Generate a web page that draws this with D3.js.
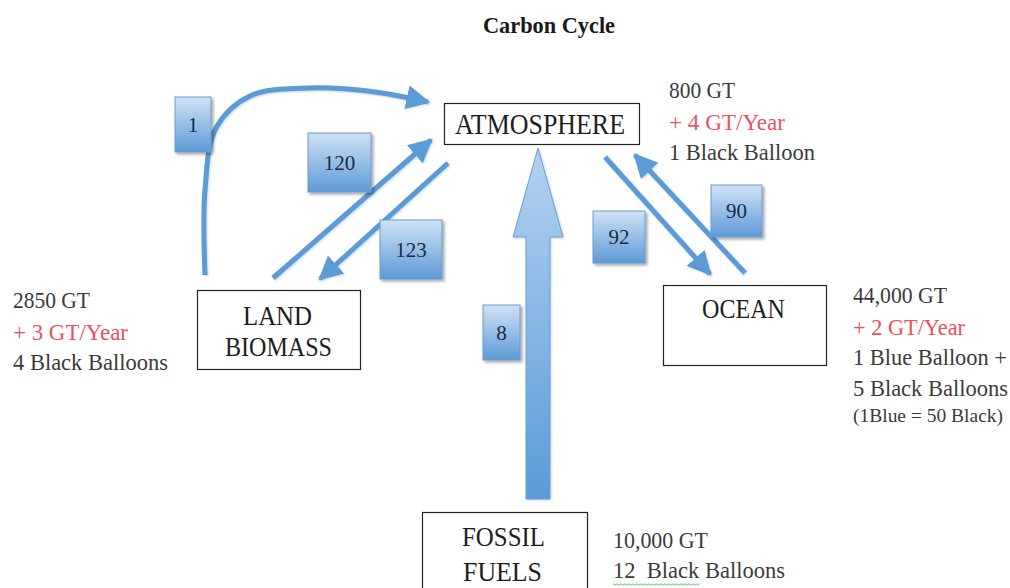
<!DOCTYPE html>
<html><head><meta charset="utf-8">
<script src="https://cdn.jsdelivr.net/npm/d3@7"></script>
<style>html,body{margin:0;padding:0;background:#fff;}svg{display:block;}text{white-space:pre;}</style>
</head><body><svg id="c" width="1010" height="588"></svg>
<script>
// ---- data ----
const title = "Carbon Cycle";
const reservoirs = ["ATMOSPHERE", "LAND BIOMASS", "OCEAN", "FOSSIL FUELS"];
const stockLabels = ["800 GT", "2850 GT", "44,000 GT", "10,000 GT"];
const rateLabels = ["+ 4 GT/Year", "+ 3 GT/Year", "+ 2 GT/Year", null];
const balloonLabels = [["1 Black Balloon"], ["4 Black Balloons"], ["1 Blue Balloon +", "5 Black Balloons"], ["12  Black Balloons"]];
const balloonNote = "(1Blue = 50 Black)";
const flowNames = ["land-use", "photosynthesis", "respiration", "ocean-uptake", "ocean-release", "fossil"];
const flowValues = [1, 120, 123, 92, 90, 8];

// ---- drawing ----
const svg = d3.select("#c");
const blue = "#5b9bd5";
const grey = "#3b3b3b";
const red = "#ee505c";
const FONT = "'Liberation Serif', 'Times New Roman', serif";

const defs = svg.append("defs");
const g1 = defs.append("linearGradient").attr("id", "boxGrad").attr("x1", 0).attr("y1", 0).attr("x2", 0).attr("y2", 1);
g1.append("stop").attr("offset", "0%").attr("stop-color", "#cfe2f6");
g1.append("stop").attr("offset", "100%").attr("stop-color", "#5d9ad6");
const g2 = defs.append("linearGradient").attr("id", "bigGrad").attr("x1", 0).attr("y1", 0).attr("x2", 0).attr("y2", 1);
g2.append("stop").attr("offset", "0%").attr("stop-color", "#b4d2f1");
g2.append("stop").attr("offset", "100%").attr("stop-color", "#5a9ad8");
const f = defs.append("filter").attr("id", "shadow").attr("x", "-20%").attr("y", "-20%").attr("width", "150%").attr("height", "150%");
f.append("feDropShadow").attr("dx", 2).attr("dy", 2).attr("stdDeviation", 1.6).attr("flood-color", "#000").attr("flood-opacity", 0.35);
const fg = defs.append("filter").attr("id", "glow").attr("x", "-20%").attr("y", "-20%").attr("width", "150%").attr("height", "150%");
fg.append("feDropShadow").attr("dx", 1).attr("dy", 1).attr("stdDeviation", 1.2).attr("flood-color", "#7aa6d0").attr("flood-opacity", 0.45);
defs.append("marker").attr("id", "head").attr("viewBox", "0 0 10 10").attr("refX", 9).attr("refY", 5)
  .attr("markerWidth", 4.8).attr("markerHeight", 4.8).attr("markerUnits", "strokeWidth").attr("orient", "auto")
  .append("path").attr("d", "M0,0 L10,5 L0,10 Z").attr("fill", blue);

function txt(x, y, s, size, width, opts = {}) {
  const t = svg.append("text").attr("x", x).attr("y", y).text(s)
    .attr("font-family", FONT).attr("font-size", size)
    .attr("fill", opts.fill || grey).attr("font-weight", opts.bold ? "bold" : "normal");
  if (width) t.attr("textLength", width).attr("lengthAdjust", "spacingAndGlyphs");
  return t;
}

// title
txt(483, 33, title, 24, 132, {bold: true, fill: "#1a1a1a"});

// reservoir boxes
const boxes = [
  {x: 444, y: 103, w: 195, h: 41, lines: [[455, 134, 170]], size: 30},
  {x: 197, y: 290, w: 163, h: 79, lines: [[243, 325, 69], [225, 356, 107]], size: 28},
  {x: 663, y: 285, w: 163, h: 80, lines: [[702, 318, 83]], size: 28},
  {x: 422, y: 512, w: 165, h: 90, lines: [[462, 546, 83], [463, 581, 79]], size: 28}
];
boxes.forEach((b, i) => {
  svg.append("rect").attr("x", b.x + 0.5).attr("y", b.y + 0.5).attr("width", b.w).attr("height", b.h)
    .attr("fill", "#fff").attr("stroke", "#222").attr("stroke-width", 1.2);
  const words = reservoirs[i].split(" ");
  words.forEach((w, j) => txt(b.lines[j][0], b.lines[j][1], w, b.size, b.lines[j][2], {fill: "#1e1e1e"}));
});

// info texts
const info = [
  {x: 669, ys: [98, 130, 160], ws: [66, 116, 146]},
  {x: 13, ys: [308, 340, 370], ws: [77, 115, 155]},
  {x: 853, ys: [303, 335, 365, 396], ws: [94, 112, 154, 155]},
  {x: 613, ys: [548, 578], ws: [95, 172]}
];
info.forEach((o, i) => {
  let k = 0;
  txt(o.x, o.ys[k], stockLabels[i], 23, o.ws[k]); k++;
  if (rateLabels[i]) { txt(o.x, o.ys[k], rateLabels[i], 23, o.ws[k], {fill: red}); k++; }
  balloonLabels[i].forEach(s => { txt(o.x, o.ys[k], s, 23, o.ws[k]); k++; });
});
txt(853, 422, balloonNote, 18, 150);
// spell-check squiggle under "12  Black"
{
  const pts = [];
  for (let x = 613, j = 0; x <= 699; x += 2, j++) pts.push([x, 584 + (j % 2 ? 1.2 : -0.2)]);
  svg.append("path").attr("d", d3.line()(pts)).attr("fill", "none").attr("stroke", "#5bb85b").attr("stroke-width", 0.9);
}

// flow arrows
const arrows = svg.append("g").attr("filter", "url(#glow)");
const lineGen = d3.line().curve(d3.curveCatmullRom.alpha(0.5));
const flowPaths = [
  [[205, 275], [205, 190], [216, 128], [250, 96], [310, 88], [375, 92], [428, 102]],
  [[273, 278], [431, 140]],
  [[448, 163], [320, 279]],
  [[605, 157], [710, 274]],
  [[745, 273], [635, 155]]
];
flowPaths.forEach(p => {
  arrows.append("path").attr("d", lineGen(p)).attr("fill", "none").attr("stroke", blue)
    .attr("stroke-width", 5).attr("stroke-linecap", "butt").attr("marker-end", "url(#head)");
});

// fossil fuel block arrow
const bx = d3.scaleLinear().domain([0, 1]).range([526, 550]);
svg.append("path").attr("filter", "url(#glow)")
  .attr("d", `M${bx(0)},499 L${bx(0)},237 L513,237 L538,148 L563,237 L${bx(1)},237 L${bx(1)},499 Z`)
  .attr("fill", "url(#bigGrad)").attr("stroke", "#6f9fcf").attr("stroke-width", 1);

// flow value boxes
const vboxes = [
  {x: 175, y: 97, w: 36, h: 55},
  {x: 308, y: 133, w: 63, h: 59},
  {x: 380, y: 220, w: 62, h: 59},
  {x: 593, y: 211, w: 52, h: 52},
  {x: 711, y: 185, w: 51, h: 52},
  {x: 483, y: 305, w: 37, h: 55}
];
flowValues.forEach((v, i) => {
  const b = vboxes[i];
  svg.append("rect").attr("x", b.x).attr("y", b.y).attr("width", b.w).attr("height", b.h)
    .attr("fill", "url(#boxGrad)").attr("stroke", "#6c9ccd").attr("stroke-width", 1)
    .attr("filter", "url(#shadow)");
  svg.append("text").attr("x", b.x + b.w / 2).attr("y", b.y + b.h / 2 + 7).attr("text-anchor", "middle")
    .attr("font-family", FONT).attr("font-size", 21).attr("fill", "#1c2b44").text(v);
});
</script></body></html>
